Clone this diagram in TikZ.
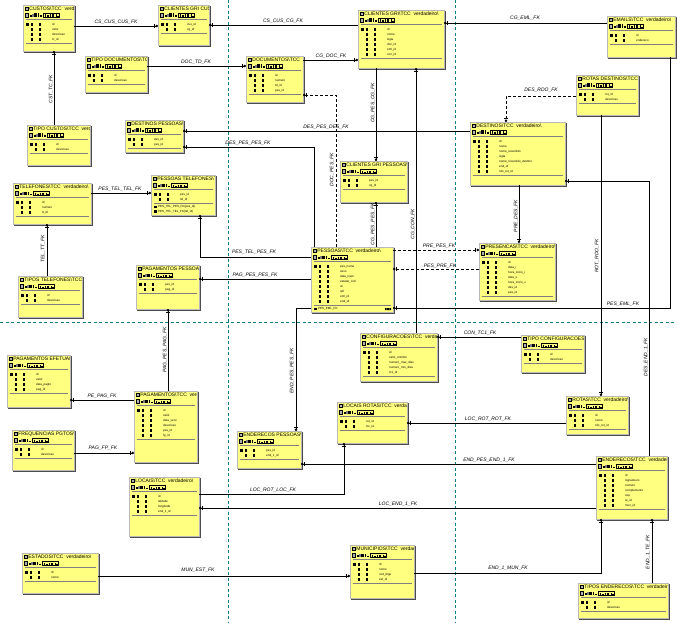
\documentclass[tikz,border=0pt]{standalone}
\usepackage{fontspec}
\setmainfont{Liberation Sans}
\usetikzlibrary{arrows.meta}
\definecolor{eryellow}{RGB}{255,255,128}
\definecolor{pageteal}{RGB}{0,128,128}
\tikzset{
  erent/.style={draw=gray!55, line width=0.9pt, fill=eryellow, inner sep=0pt, outer sep=0pt, rectangle},
  boxshadow/.style={fill=black!70},
  ertitle/.style={anchor=west, inner sep=0pt, font=\fontsize{5}{5}\selectfont},
  errow/.style={anchor=west, inner sep=0pt, font=\fontsize{3}{3}\selectfont},
  sepline/.style={draw=gray, line width=0.8pt},
  fk/.style={draw=black, line width=0.8pt, -{Bar[width=4.5pt,line width=0.7pt,sep=0.7pt] Circle[length=2.4pt]}},
  fkd/.style={fk, dash pattern=on 3pt off 2pt},
  fklbl/.style={inner sep=0pt, font=\fontsize{5}{5}\selectfont\itshape},
  pageline/.style={draw=pageteal, line width=0.8pt, dash pattern=on 3pt off 2.5pt},
}
\newcommand\erbox[8]{%
  \fill[boxshadow] (#2+1,#5-0.5) rectangle (#4+1.6,#5+1.6);
  \fill[boxshadow] (#4-0.5,#3+1) rectangle (#4+1.6,#5+1.6);
  \node[erent, minimum width=#4-#2, minimum height=#5-#3, anchor=north west] (#1) at (#2,#3) {};
  \begin{scope}
    \clip (#2+0.5,#3+0.5) rectangle (#4-0.5,#5-0.5);
    \filldraw[fill=gray!60, draw=black, line width=0.4pt] (#2+2,#3+1.8) rectangle (#2+5.6,#3+5.4);
    \node[ertitle] at (#2+6.2,#3+3.8) {#6};
    \filldraw[fill=gray!60, draw=black, line width=0.3pt] (#2+2,#3+8.5) rectangle ++(3.6,3.8);
    \fill (#2+7,#3+10) rectangle ++(2,2.3);
    \fill[gray] (#2+9.3,#3+9) rectangle ++(1.6,3.3);
    \fill (#2+11.2,#3+8.5) rectangle ++(2.6,3.8);
    \fill (#2+15,#3+8.5) rectangle ++(0.9,3.8);
    \fill (#2+17,#3+10.5) rectangle ++(2,1.8);
    \draw[line width=0.4pt] (#2+20.5,#3+8.3) rectangle ++(16,4.2);
    \fill (#2+22,#3+9.5) rectangle ++(1,2.8);
    \fill (#2+24,#3+10.5) rectangle ++(1.5,1.8);
    \fill (#2+27,#3+9.5) rectangle ++(0.8,2.8);
    \fill (#2+29,#3+9.5) rectangle ++(1.8,2.8);
    \fill (#2+33,#3+9.5) rectangle ++(0.8,2.8);
    \fill (#2+34,#3+10.7) rectangle ++(1.5,0.6);
    \draw[sepline] (#2+2.5,#3+14.5) -- (#4-2.5,#3+14.5);
    \foreach \rname [count=\ri] in {#7} {
      \fill (#2+7.5,#3+13.4+5*\ri) rectangle ++(2.8,2.6);
      \fill (#2+15.8,#3+13.4+5*\ri) rectangle ++(2.6,2.6);
      \node[errow] at (#2+29,#3+14.6+5*\ri) {\rname};
    }
    \fill (#2+3.3,#3+18.4) rectangle ++(2.6,2.6);
    \draw[sepline] (#2+2.5,#3+18.5+5*#8) -- (#4-2.5,#3+18.5+5*#8);
  \end{scope}
}
\newcommand\erindex[3]{%
  \fill (#1+3,#2-1.2) rectangle ++(2.6,2.4);
  \node[errow] at (#1+7,#2) {#3};
}
\begin{document}
\begin{tikzpicture}[x=1pt,y=-1pt]
\useasboundingbox (0,0) rectangle (677,623);
\fill[white] (0,0) rectangle (677,623);
% page break lines
\draw[pageline] (228,0) -- (228,623);
\draw[pageline] (455,0) -- (455,623);
\draw[pageline] (0,322) -- (677,322);

% entities
\erbox{cus}{23}{5}{74}{51}{CUSTOS\textbackslash TCC\ \ verdadeiro\textbackslash}{id,valor,descricao,tc\_id}{4}
\erbox{cgc}{158}{5}{209}{45}{CLIENTES GRI CUSTOS\textbackslash TCC}{cus\_id,cg\_id}{2}
\erbox{tdoc}{85}{56}{147}{92}{TIPO DOCUMENTOS\textbackslash TCC}{id,descricao}{2}
\erbox{dpes}{125}{120}{183}{152}{DESTINOS PESSOAS\textbackslash TCC}{des\_id,pes\_id}{2}
\erbox{tcus}{27}{125}{90}{165}{TIPO CUSTOS\textbackslash TCC\ \ verdadeiro}{id,descricao}{2}
\erbox{cgri}{358}{10}{444}{68}{CLIENTES GRI\textbackslash TCC\ \ verdadeiro\textbackslash}{id,nome,sigla,doc\_id,eml\_id,con\_id}{6}
\erbox{doc}{246}{56}{303}{102}{DOCUMENTOS\textbackslash TCC\ \ verdadeiro}{id,numero,td\_id,pes\_id}{4}
\erbox{eml}{607}{16}{675}{57}{EMAILS\textbackslash TCC\ \ verdadeiro\textbackslash}{id,endereco}{2}
\erbox{rdes}{576}{75}{638}{115}{ROTAS DESTINOS\textbackslash TCC}{rot\_id,descricao}{2}
\erbox{des}{470}{122}{565}{185}{DESTINOS\textbackslash TCC\ \ verdadeiro\textbackslash}{id,nome,nome\_resumido,sigla,nome\_resumido\_destino,end\_id,rdo\_rot\_id}{7}
\erbox{cgp}{340}{161}{407}{202}{CLIENTES GRI PESSOAS\textbackslash TCC}{pes\_id,cg\_id}{2}
\erbox{tel}{13}{183}{91}{224}{TELEFONES\textbackslash TCC\ \ verdadeiro\textbackslash}{id,numero,tt\_id}{3}
\erbox{ptel}{151}{175}{215}{215}{PESSOAS TELEFONES\textbackslash TCC}{pes\_id,tel\_id}{2}
\erindex{151}{207}{PES\_TEL\_PES\_FK(pes\_id)}
\erindex{151}{211.5}{PES\_TEL\_TEL\_FK(tel\_id)}
\erbox{ttel}{18}{276}{82}{317}{TIPOS TELEFONES\textbackslash TCC}{id,descricao}{2}
\erbox{ppes}{136}{265}{199}{309}{PAGAMENTOS PESSOAS\textbackslash TCC}{pes\_id,pag\_id}{2}
\erbox{pes}{311}{247}{393}{312}{PESSOAS\textbackslash TCC\ \ verdadeiro\textbackslash}{pes\_nome,sexo,data\_nasc,estado\_civil,id,cpf,eml\_id,end\_id}{8}
\erindex{311}{309}{PES\_EML\_FK}
\fill (385,308) rectangle ++(1.6,2) (387.2,308) rectangle ++(1.6,2) (389.4,308) rectangle ++(1.6,2);
\erbox{pre}{479}{243}{555}{300}{PRESENCAS\textbackslash TCC\ \ verdadeiro\textbackslash}{id,data\_i,hora\_inicio\_i,data\_s,hora\_inicio\_s,des\_id,pes\_id}{7}
\erbox{pefe}{7}{355}{70}{407}{PAGAMENTOS EFETUADOS\textbackslash TCC}{id,valor,data\_pagto,pag\_id}{4}
\erbox{pag}{134}{391}{197}{462}{PAGAMENTOS\textbackslash TCC\ \ verdadeiro}{id,valor,data\_venc,descricao,pes\_id,fp\_id}{6}
\erbox{freq}{12}{430}{74}{470}{FREQUENCIAS PGTOS\textbackslash TCC}{id,descricao}{2}
\erbox{conf}{360}{333}{437}{381}{CONFIGURACOES\textbackslash TCC\ \ verdadeiro}{id,valor\_minimo,numero\_max\_dias,numero\_min\_dias,tc1\_id}{5}
\erbox{lrot}{337}{402}{407}{443}{LOCAIS ROTAS\textbackslash TCC\ \ verdadeiro}{rot\_id,loc\_id}{2}
\erbox{epes}{237}{431}{301}{468}{ENDERECOS PESSOAS\textbackslash TCC}{pes\_id,end\_1\_id}{2}
\erbox{tconf}{521}{335}{584}{372}{TIPO CONFIGURACOES\textbackslash TCC}{id,descricao}{2}
\erbox{rot}{566}{396}{628}{434}{ROTAS\textbackslash TCC\ \ verdadeiro\textbackslash}{id,nome,rdo\_rot\_id}{3}
\erbox{endr}{596}{456}{667}{519}{ENDERECOS\textbackslash TCC\ \ verdadeiro\textbackslash}{id,logradouro,numero,complemento,cep,te\_id,mun\_id}{7}
\erbox{loc}{129}{477}{199}{536}{LOCAIS\textbackslash TCC\ \ verdadeiro\textbackslash}{id,latitude,longitude,end\_1\_id}{4}
\erbox{est}{22}{553}{98}{593}{ESTADOS\textbackslash TCC\ \ verdadeiro\textbackslash}{id,nome}{2}
\erbox{mun}{350}{545}{414}{598}{MUNICIPIOS\textbackslash TCC\ \ verdadeiro}{id,nome,cod\_ibge,est\_id}{4}
\erbox{tend}{578}{583}{668}{618}{TIPOS ENDERECOS\textbackslash TCC\ \ verdadeiro}{id,descricao}{2}

% connectors
\draw[fk] (cus.east |- 0,26) -- (cgc.west |- 0,26);
\draw[fk] (cgri.west |- 0,25) -- (cgc.east |- 0,25);
\draw[fk] (tdoc.east |- 0,66) -- (doc.west |- 0,66);
\draw[fk] (doc.east |- 0,60) -- (cgri.west |- 0,60);
\draw[fk] (eml.west |- 0,23) -- (cgri.east |- 0,23);
\draw[fk] (tcus.north -| 54,0) -- (cus.south -| 54,0);
\draw[fk] (des.west |- 0,131) -- (dpes.east |- 0,131);
\draw[fk] (pes.north -| 314,0) |- (dpes.east |- 0,147);
\draw[fkd] (pes.north -| 336,0) |- (doc.east |- 0,95);
\draw[fk] (cgri.south -| 376,0) -- (cgp.north -| 376,0);
\draw[fk] (pes.north -| 376,0) -- (cgp.south -| 376,0);
\draw[fk] (conf.north -| 416,0) -- (cgri.south -| 416,0);
\draw[fk] (pes.west |- 0,257) -| (ptel.south -| 200,0);
\draw[fk] (tel.east |- 0,193) -- (ptel.west |- 0,193);
\draw[fk] (ttel.north -| 47,0) -- (tel.south -| 47,0);
\draw[fk] (pes.west |- 0,279) -- (ppes.east |- 0,279);
\draw[fk] (pag.north -| 168,0) -- (ppes.south -| 168,0);
\draw[fk] (pag.west |- 0,400) -- (pefe.east |- 0,400);
\draw[fk] (freq.east |- 0,453) -- (pag.west |- 0,453);
\draw[fkd] (pes.east |- 0,250) -- (pre.west |- 0,250);
\draw[fkd] (pre.west |- 0,269) -- (pes.east |- 0,269);
\draw[fk] (des.south -| 519,0) -- (pre.north -| 519,0);
\draw[fkd] (rdes.west |- 0,96) -| (des.north -| 506,0);
\draw[fk] (rdes.south -| 601,0) -- (rot.north -| 601,0);
\draw[fk] (eml.south -| 670,0) |- (pes.east |- 0,308);
\draw[fk] (endr.north -| 649,0) |- (des.east |- 0,181);
\draw[fk] (tconf.west |- 0,337) -- (conf.east |- 0,337);
\draw[fk] (rot.west |- 0,423) -- (lrot.east |- 0,423);
\draw[fk] (loc.east |- 0,494) -| (lrot.south -| 344,0);
\draw[fk] (endr.west |- 0,464) -- (epes.east |- 0,464);
\draw[fk] (pes.west |- 0,308) -| (epes.north -| 296,0);
\draw[fk] (endr.west |- 0,508) -- (loc.east |- 0,508);
\draw[fk] (est.east |- 0,576) -- (mun.west |- 0,576);
\draw[fk] (mun.east |- 0,573) -| (endr.south -| 601,0);
\draw[fk] (tend.north -| 652,0) -- (endr.south -| 652,0);

% labels
\node[fklbl] (l1) at (116,22) {CS\_CUS\_CUS\_FK};
\node[fklbl] (l2) at (283,21) {CS\_CUS\_CG\_FK};
\node[fklbl] (l3) at (196,62) {DOC\_TD\_FK};
\node[fklbl] (l4) at (331,56) {CG\_DOC\_FK};
\node[fklbl] (l5) at (525,18) {CG\_EML\_FK};
\node[fklbl,rotate=90] (l6) at (51,89) {CST\_TC\_FK};
\node[fklbl] (l7) at (326,127) {DES\_PES\_DES\_FK};
\node[fklbl] (l8) at (248,143) {DES\_PES\_PES\_FK};
\node[fklbl,rotate=90] (l9) at (332,170) {DOC\_PES\_FK};
\node[fklbl,rotate=90] (l10) at (373,103) {CG\_PES\_CG\_FK};
\node[fklbl,rotate=90] (l11) at (373,224) {CG\_PES\_PES\_FK};
\node[fklbl,rotate=90] (l12) at (413,224) {CG\_CON\_FK};
\node[fklbl] (l13) at (254,252) {PES\_TEL\_PES\_FK};
\node[fklbl] (l14) at (120,189) {PES\_TEL\_TEL\_FK};
\node[fklbl,rotate=90] (l15) at (43,249) {TEL\_TT\_FK};
\node[fklbl] (l16) at (255,275) {PAG\_PES\_PES\_FK};
\node[fklbl,rotate=90] (l17) at (165,350) {PAG\_PES\_PAG\_FK};
\node[fklbl] (l18) at (102,396) {PE\_PAG\_FK};
\node[fklbl] (l19) at (103,448) {PAG\_FP\_FK};
\node[fklbl] (l20) at (439,246) {PRE\_PES\_FK};
\node[fklbl] (l21) at (440,266) {PES\_PRE\_FK};
\node[fklbl,rotate=90] (l22) at (516,216) {PRE\_DES\_FK};
\node[fklbl] (l23) at (541,90) {DES\_RDO\_FK};
\node[fklbl,rotate=90] (l24) at (597,256) {ROT\_RDO\_FK};
\node[fklbl] (l25) at (623,304) {PES\_EML\_FK};
\node[fklbl,rotate=90] (l26) at (646,357) {DES\_END\_1\_FK};
\node[fklbl] (l27) at (480,333) {CON\_TC1\_FK};
\node[fklbl] (l28) at (488,419) {LOC\_ROT\_ROT\_FK};
\node[fklbl] (l29) at (273,490) {LOC\_ROT\_LOC\_FK};
\node[fklbl] (l30) at (489,460) {END\_PES\_END\_1\_FK};
\node[fklbl,rotate=90] (l31) at (292,371) {END\_PES\_PES\_FK};
\node[fklbl] (l32) at (398,504) {LOC\_END\_1\_FK};
\node[fklbl] (l33) at (198,570) {MUN\_EST\_FK};
\node[fklbl] (l34) at (508,568) {END\_1\_MUN\_FK};
\node[fklbl,rotate=90] (l35) at (648,552) {END\_1\_TE\_FK};
\end{tikzpicture}
\end{document}
